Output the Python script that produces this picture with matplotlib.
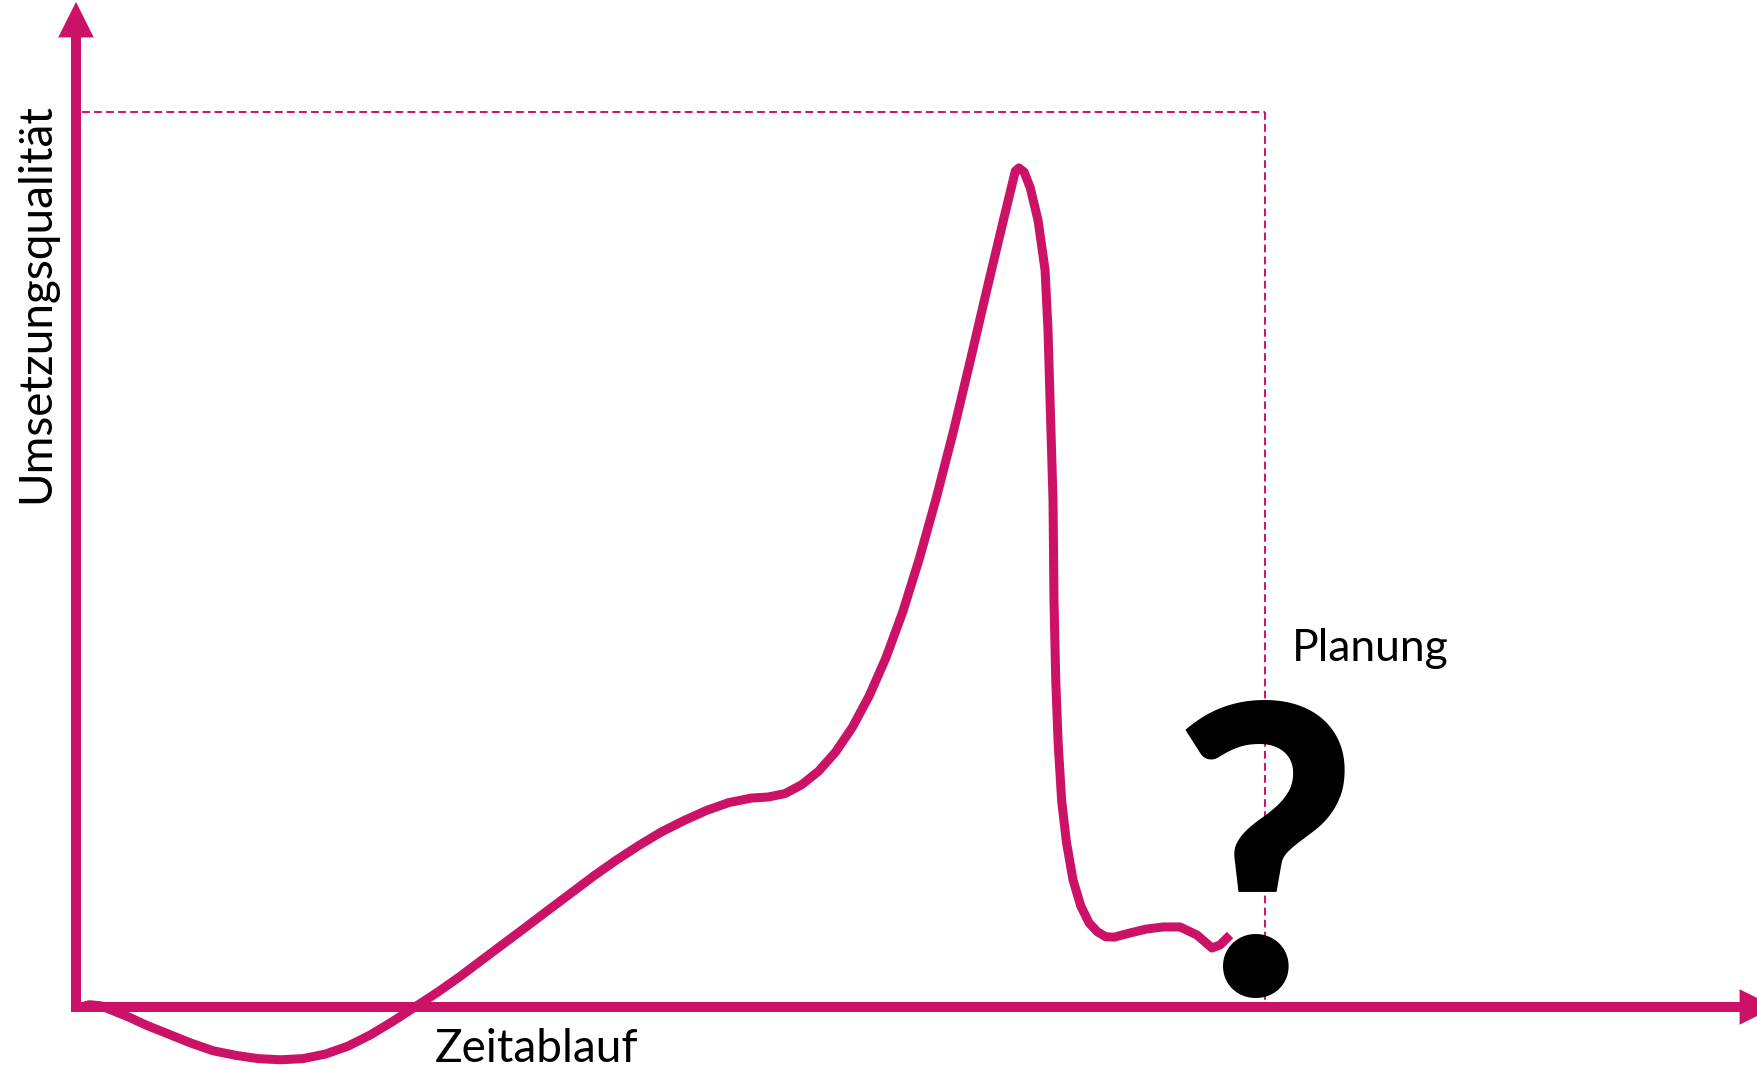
import matplotlib
matplotlib.use("Agg")
import matplotlib.pyplot as plt
from matplotlib.patches import FancyArrowPatch

# curve: time (Planung = 100), quality (plan target = 100)
zeit = [0.4, 1.15, 2.09, 3.04, 4.45, 5.87, 7.75, 9.64, 11.53, 13.42, 15.3,
        17.19, 19.07, 20.96, 22.85, 24.73, 26.62, 28.51, 30.39, 32.28, 34.16,
        36.05, 37.94, 39.82, 41.71, 43.59, 45.48, 47.37, 49.25, 51.14, 53.03,
        54.91, 56.8, 58.21, 59.63, 61.04, 62.46, 63.88, 65.29, 66.71, 68.12,
        69.54, 70.95, 72.37, 73.78, 75.2, 76.61, 78.03, 79.0, 79.3, 79.73,
        80.24, 80.91, 81.5, 81.75, 81.92, 82.17, 82.25, 82.4, 82.6, 82.9,
        83.3, 83.85, 84.5, 85.2, 85.9, 86.6, 87.3, 88.65, 90.0, 91.42, 92.85,
        94.28, 95.54, 96.22, 97.06]
qualitaet = [0.0, 0.25, 0.13, -0.38, -1.13, -2.01, -3.01, -4.02, -4.89, -5.4,
             -5.77, -5.9, -5.77, -5.27, -4.39, -3.14, -1.63, 0.0, 1.63, 3.39,
             5.27, 7.15, 9.03, 10.92, 12.8, 14.68, 16.44, 18.07, 19.57, 20.83,
             21.96, 22.84, 23.34, 23.46, 23.84, 24.84, 26.35, 28.48, 31.24,
             34.76, 39.02, 44.17, 50.19, 56.96, 64.24, 72.15, 80.18, 88.08,
             93.4, 93.75, 93.3, 91.6, 87.9, 82.35, 75.6, 67.8, 56.6, 45.5,
             36.5, 29.5, 23.0, 18.4, 14.2, 11.3, 9.4, 8.4, 7.85, 7.8, 8.27,
             8.7, 8.94, 8.94, 8.04, 6.59, 6.93, 8.04]

planung_x = 100   # planned end of time
ziel_y = 100      # planned quality

magenta = "#cc1266"
plt.rcParams['font.family'] = ['Lato', 'DejaVu Sans']

fig = plt.figure(figsize=(17.58, 10.69), dpi=100)
ax = fig.add_axes([0, 0, 1, 1])
ax.set_xlim(-6.39, 141.46)
ax.set_ylim(-6.93, 112.51)
ax.axis("off")

# planning box (dashed)
ax.plot([0.5, planung_x], [ziel_y, ziel_y], color=magenta, lw=1.4, dashes=(4, 2.2))
ax.plot([planung_x, planung_x], [ziel_y, 0], color=magenta, lw=1.4, dashes=(4, 2.2))

# axes lines
ax.plot([0, 0], [-0.6, 109.0], color=magenta, lw=7.2, solid_capstyle="butt")
ax.plot([-0.4, 141.0], [0, 0], color=magenta, lw=7.2, solid_capstyle="butt")
# arrow heads
for start, end in [((0, 100), (0, 112.3)), ((130, 0), (142.9, 0))]:
    head = FancyArrowPatch(start, end, arrowstyle="-|>", mutation_scale=64,
                           color=magenta, lw=0, shrinkA=0, shrinkB=0)
    ax.add_patch(head)

ax.plot(zeit, qualitaet, color=magenta, lw=6.5, solid_capstyle="butt",
        solid_joinstyle="round")

ax.text(planung_x, 1.3, "?", fontsize=290, fontweight="black", color="black",
        ha="center", va="baseline")

ax.text(102.3, 38.7, "Planung", fontsize=32, color="black", ha="left", va="baseline")
ax.text(30.2, -6.1, "Zeitablauf", fontsize=33, color="black", ha="left", va="baseline")
ax.text(-2.27, 78.6, "Umsetzungsqualität", fontsize=33, color="black", rotation=90,
        rotation_mode="anchor", ha="center", va="baseline")

fig.savefig("out.png", dpi=100)
